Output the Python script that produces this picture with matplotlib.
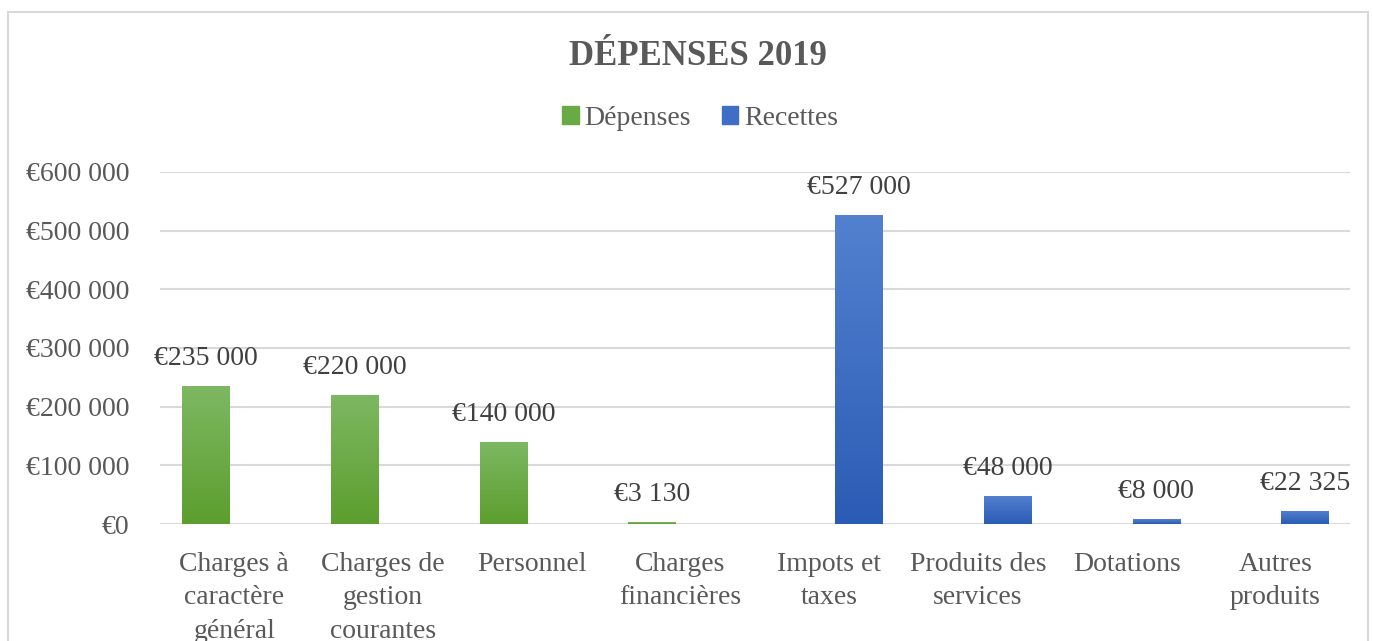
import numpy as np
import matplotlib.pyplot as plt
from matplotlib.patches import Rectangle
from matplotlib.colors import LinearSegmentedColormap

categories = ["Charges à\ncaractère\ngénéral", "Charges de\ngestion\ncourantes", "Personnel",
              "Charges\nfinancières", "Impots et\ntaxes", "Produits des\nservices",
              "Dotations", "Autres\nproduits"]
depenses = [235000, 220000, 140000, 3130, 0, 0, 0, 0]
recettes = [0, 0, 0, 0, 527000, 48000, 8000, 22325]
yticks = [0, 100000, 200000, 300000, 400000, 500000, 600000]

plt.rcParams['font.family'] = ['Liberation Serif', 'DejaVu Serif']


def euro(v):
    return "€" + f"{v:,.0f}".replace(",", " ")


fig = plt.figure(figsize=(13.73, 6.41), dpi=100)
ax = fig.add_axes([0.1165, 0.1825, 0.8665, 0.5492])

# chart border
fig.patches.append(Rectangle((8 / 1373, -0.05), 1360 / 1373, 1.05 - 12 / 641,
                             transform=fig.transFigure, fill=False,
                             edgecolor="#d9d9d9", linewidth=1.5))

x = np.arange(len(categories))
w = 0.32
green = LinearSegmentedColormap.from_list("g", ["#5c9e2e", "#7db862"])
blue = LinearSegmentedColormap.from_list("b", ["#2b5cb5", "#5381d0"])
grad = np.linspace(0, 1, 100).reshape(-1, 1)


def draw(xpos, vals, cmap):
    bars = ax.bar(xpos, vals, w, color=cmap(0.5), zorder=3)
    for b, v in zip(bars, vals):
        if v <= 0:
            continue
        x0, y0 = b.get_x(), b.get_y()
        im = ax.imshow(grad, cmap=cmap, origin="lower", aspect="auto",
                       extent=[x0, x0 + b.get_width(), y0, y0 + b.get_height()],
                       zorder=4)
        im.set_clip_path(b)
        ax.annotate(euro(v), (b.get_x() + b.get_width() / 2, v),
                    xytext=(0, 11), textcoords="offset points",
                    ha="center", va="bottom", fontsize=20, color="#404040")
    return bars


draw(x - 0.19, depenses, green)
draw(x + 0.2, recettes, blue)

ax.set_xlim(-0.5, len(categories) - 0.5)
ax.set_ylim(0, 600000)
ax.set_yticks(yticks)
ax.set_yticklabels([euro(v) for v in yticks])
ax.set_xticks(x)
ax.set_xticklabels(categories, linespacing=1.45)
ax.tick_params(axis="both", length=0, labelsize=20, colors="#595959")
ax.tick_params(axis="y", pad=22)
ax.tick_params(axis="x", pad=20)
ax.grid(axis="y", color="#d9d9d9", linewidth=1.5, zorder=0)
for s in ax.spines.values():
    s.set_visible(False)

fig.text(0.508, 0.912, "DÉPENSES 2019", ha="center", va="center",
         fontsize=25, fontweight="bold", color="#595959")

hg = Rectangle((0, 0), 1, 1, color="#6aaa45")
hb = Rectangle((0, 0), 1, 1, color="#3f6fc4")
fig.legend([hg, hb], ["Dépenses", "Recettes"], loc="center",
           bbox_to_anchor=(0.51, 0.815), ncol=2, frameon=False,
           fontsize=20, labelcolor="#595959", handlelength=0.6,
           handleheight=0.6, handletextpad=0.2, columnspacing=1.1)

fig.savefig("out.png", dpi=100)
